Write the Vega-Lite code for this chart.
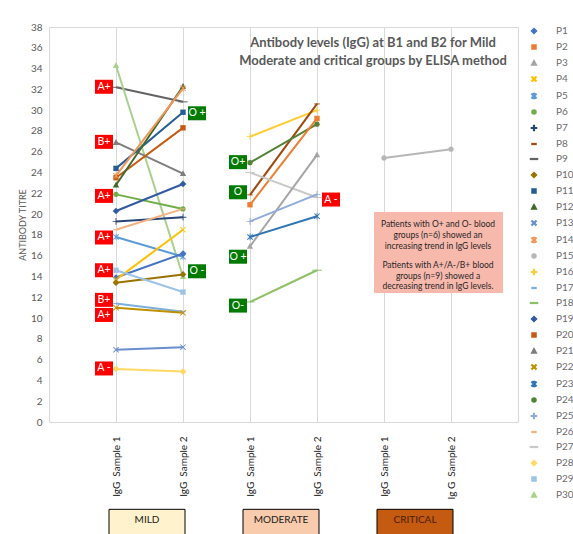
{
  "$schema": "https://vega.github.io/schema/vega-lite/v6.json",
  "width": 469,
  "height": 395,
  "autosize": {"type": "none"},
  "padding": {"left": 49, "top": 27, "right": 55, "bottom": 112},
  "background": "white",
  "config": {"font": "Lato", "view": {"stroke": "#d9d9d9"}},
  "datasets": {
    "titres": [
      {"patient": "P9", "sample": "Mild|IgG\u00a0 Sample 1", "titre": 32.2},
      {"patient": "P9", "sample": "Mild|IgG\u00a0 Sample 2", "titre": 30.8},
      {"patient": "P30", "sample": "Mild|IgG\u00a0 Sample 1", "titre": 34.3},
      {"patient": "P30", "sample": "Mild|IgG\u00a0 Sample 2", "titre": 14.0},
      {"patient": "P21", "sample": "Mild|IgG\u00a0 Sample 1", "titre": 26.9},
      {"patient": "P21", "sample": "Mild|IgG\u00a0 Sample 2", "titre": 23.9},
      {"patient": "P11", "sample": "Mild|IgG\u00a0 Sample 1", "titre": 24.4},
      {"patient": "P11", "sample": "Mild|IgG\u00a0 Sample 2", "titre": 29.8},
      {"patient": "P20", "sample": "Mild|IgG\u00a0 Sample 1", "titre": 23.5},
      {"patient": "P20", "sample": "Mild|IgG\u00a0 Sample 2", "titre": 28.3},
      {"patient": "P12", "sample": "Mild|IgG\u00a0 Sample 1", "titre": 22.8},
      {"patient": "P12", "sample": "Mild|IgG\u00a0 Sample 2", "titre": 32.3},
      {"patient": "P14", "sample": "Mild|IgG\u00a0 Sample 1", "titre": 23.7},
      {"patient": "P14", "sample": "Mild|IgG\u00a0 Sample 2", "titre": 32.1},
      {"patient": "P6", "sample": "Mild|IgG\u00a0 Sample 1", "titre": 21.9},
      {"patient": "P6", "sample": "Mild|IgG\u00a0 Sample 2", "titre": 20.5},
      {"patient": "P19", "sample": "Mild|IgG\u00a0 Sample 1", "titre": 20.3},
      {"patient": "P19", "sample": "Mild|IgG\u00a0 Sample 2", "titre": 22.9},
      {"patient": "P7", "sample": "Mild|IgG\u00a0 Sample 1", "titre": 19.3},
      {"patient": "P7", "sample": "Mild|IgG\u00a0 Sample 2", "titre": 19.7},
      {"patient": "P26", "sample": "Mild|IgG\u00a0 Sample 1", "titre": 18.5},
      {"patient": "P26", "sample": "Mild|IgG\u00a0 Sample 2", "titre": 20.5},
      {"patient": "P5", "sample": "Mild|IgG\u00a0 Sample 1", "titre": 17.8},
      {"patient": "P5", "sample": "Mild|IgG\u00a0 Sample 2", "titre": 15.9},
      {"patient": "P1", "sample": "Mild|IgG\u00a0 Sample 1", "titre": 13.9},
      {"patient": "P1", "sample": "Mild|IgG\u00a0 Sample 2", "titre": 16.2},
      {"patient": "P4", "sample": "Mild|IgG\u00a0 Sample 1", "titre": 13.7},
      {"patient": "P4", "sample": "Mild|IgG\u00a0 Sample 2", "titre": 18.5},
      {"patient": "P10", "sample": "Mild|IgG\u00a0 Sample 1", "titre": 13.4},
      {"patient": "P10", "sample": "Mild|IgG\u00a0 Sample 2", "titre": 14.2},
      {"patient": "P29", "sample": "Mild|IgG\u00a0 Sample 1", "titre": 14.6},
      {"patient": "P29", "sample": "Mild|IgG\u00a0 Sample 2", "titre": 12.5},
      {"patient": "P17", "sample": "Mild|IgG\u00a0 Sample 1", "titre": 11.4},
      {"patient": "P17", "sample": "Mild|IgG\u00a0 Sample 2", "titre": 10.6},
      {"patient": "P22", "sample": "Mild|IgG\u00a0 Sample 1", "titre": 11.0},
      {"patient": "P22", "sample": "Mild|IgG\u00a0 Sample 2", "titre": 10.5},
      {"patient": "P13", "sample": "Mild|IgG\u00a0 Sample 1", "titre": 6.95},
      {"patient": "P13", "sample": "Mild|IgG\u00a0 Sample 2", "titre": 7.2},
      {"patient": "P28", "sample": "Mild|IgG\u00a0 Sample 1", "titre": 5.1},
      {"patient": "P28", "sample": "Mild|IgG\u00a0 Sample 2", "titre": 4.85},
      {"patient": "P16", "sample": "Moderate|IgG\u00a0 Sample 1", "titre": 27.45},
      {"patient": "P16", "sample": "Moderate|IgG\u00a0 Sample 2", "titre": 30.0},
      {"patient": "P8", "sample": "Moderate|IgG\u00a0 Sample 1", "titre": 21.85},
      {"patient": "P8", "sample": "Moderate|IgG\u00a0 Sample 2", "titre": 30.6},
      {"patient": "P24", "sample": "Moderate|IgG\u00a0 Sample 1", "titre": 24.95},
      {"patient": "P24", "sample": "Moderate|IgG\u00a0 Sample 2", "titre": 28.65},
      {"patient": "P2", "sample": "Moderate|IgG\u00a0 Sample 1", "titre": 20.9},
      {"patient": "P2", "sample": "Moderate|IgG\u00a0 Sample 2", "titre": 29.2},
      {"patient": "P27", "sample": "Moderate|IgG\u00a0 Sample 1", "titre": 24.0},
      {"patient": "P27", "sample": "Moderate|IgG\u00a0 Sample 2", "titre": 21.6},
      {"patient": "P3", "sample": "Moderate|IgG\u00a0 Sample 1", "titre": 16.9},
      {"patient": "P3", "sample": "Moderate|IgG\u00a0 Sample 2", "titre": 25.7},
      {"patient": "P25", "sample": "Moderate|IgG\u00a0 Sample 1", "titre": 19.3},
      {"patient": "P25", "sample": "Moderate|IgG\u00a0 Sample 2", "titre": 21.9},
      {"patient": "P23", "sample": "Moderate|IgG\u00a0 Sample 1", "titre": 17.8},
      {"patient": "P23", "sample": "Moderate|IgG\u00a0 Sample 2", "titre": 19.8},
      {"patient": "P18", "sample": "Moderate|IgG\u00a0 Sample 1", "titre": 11.55},
      {"patient": "P18", "sample": "Moderate|IgG\u00a0 Sample 2", "titre": 14.6},
      {"patient": "P15", "sample": "Critical|IgG\u00a0 Sample 1", "titre": 25.4},
      {"patient": "P15", "sample": "Critical|Ig G\u00a0 Sample 2", "titre": 26.25}
    ],
    "bloodgroups": [
      {"sample": "Mild|IgG\u00a0 Sample 1", "pos": 32.25, "label": "A+"},
      {"sample": "Mild|IgG\u00a0 Sample 1", "pos": 26.95, "label": "B+"},
      {"sample": "Mild|IgG\u00a0 Sample 1", "pos": 21.75, "label": "A+"},
      {"sample": "Mild|IgG\u00a0 Sample 1", "pos": 17.75, "label": "A+"},
      {"sample": "Mild|IgG\u00a0 Sample 1", "pos": 14.6, "label": "A+"},
      {"sample": "Mild|IgG\u00a0 Sample 1", "pos": 11.75, "label": "B+"},
      {"sample": "Mild|IgG\u00a0 Sample 1", "pos": 10.3, "label": "A+"},
      {"sample": "Mild|IgG\u00a0 Sample 1", "pos": 5.15, "label": "A -"},
      {"sample": "Mild|IgG\u00a0 Sample 2", "pos": 29.7, "label": "O +"},
      {"sample": "Mild|IgG\u00a0 Sample 2", "pos": 14.5, "label": "O -"},
      {"sample": "Moderate|IgG\u00a0 Sample 1", "pos": 25.0, "label": "O+"},
      {"sample": "Moderate|IgG\u00a0 Sample 1", "pos": 22.1, "label": "O"},
      {"sample": "Moderate|IgG\u00a0 Sample 1", "pos": 15.9, "label": "O +"},
      {"sample": "Moderate|IgG\u00a0 Sample 1", "pos": 11.2, "label": "O-"},
      {"sample": "Moderate|IgG\u00a0 Sample 2", "pos": 21.4, "label": "A -"}
    ],
    "groups": [
      {"group": "MILD", "start": "Mild|IgG\u00a0 Sample 1"},
      {"group": "MODERATE", "start": "Moderate|IgG\u00a0 Sample 1"},
      {"group": "CRITICAL", "start": "Critical|IgG\u00a0 Sample 1"}
    ],
    "note": [
      {"para": 1, "text": ["Patients with O+ and O- blood", "groups (n=6) showed an", "increasing trend in IgG levels"]},
      {"para": 2, "text": ["Patients with A+/A-/B+ blood", "groups (n=9) showed a", "decreasing trend in IgG levels."]}
    ],
    "heading": [
      {"text": ["Antibody levels (IgG) at B1 and B2 for Mild", "Moderate and critical groups by ELISA method"]}
    ]
  },
  "layer": [
    {
      "data": {"name": "note"},
      "transform": [{"filter": "datum.para === 1"}],
      "mark": {"type": "point", "filled": true, "size": 4, "opacity": 1, "fill": "#F8B9AD", "strokeWidth": 0, "shape": "M-10,0H119V81H-10Z"},
      "encoding": {
        "x": {"datum": "Critical|IgG\u00a0 Sample 1", "type": "nominal", "scale": {"type": "point", "domain": ["Mild|IgG\u00a0 Sample 1", "Mild|IgG\u00a0 Sample 2", "Moderate|IgG\u00a0 Sample 1", "Moderate|IgG\u00a0 Sample 2", "Critical|IgG\u00a0 Sample 1", "Critical|Ig G\u00a0 Sample 2"], "padding": 1},
          "axis": {"title": null, "labelAngle": 270, "labelAlign": "right", "labelBaseline": "middle", "labelPadding": 14, "ticks": false, "domainColor": "#d9d9d9", "grid": true, "gridColor": "#d9d9d9", "labelExpr": "split(datum.label, '|')[1]", "labelFontSize": 10, "labelColor": "#1a1a1a", "labelFont": "Lato"}},
        "y": {"datum": 20.2, "type": "quantitative", "scale": {"domain": [0, 38], "nice": false},
          "axis": {"title": "ANTIBODY TITRE", "titleFontSize": 9, "titleColor": "#595959", "titleFontWeight": "normal", "titleFont": "Lato", "titlePadding": 3, "labelFontSize": 10, "labelColor": "#595959", "labelFont": "Lato", "ticks": false, "domain": false, "tickCount": 76, "format": "d", "labelOverlap": false, "labelPadding": 7, "labelExpr": "datum.value % 2 === 0 ? datum.label : ''", "gridColor": {"condition": {"test": "datum.value % 2 === 0", "value": "#d9d9d9"}, "value": "#f0f0f0"}}}
      }
    },
    {
      "data": {"name": "groups"},
      "mark": {"type": "point", "filled": true, "size": 4, "opacity": 1, "stroke": "#000000", "strokeWidth": 1, "shape": "M-7,0H69V30H-7Z"},
      "encoding": {
        "x": {"field": "start", "type": "nominal", "scale": {"type": "point", "domain": ["Mild|IgG\u00a0 Sample 1", "Mild|IgG\u00a0 Sample 2", "Moderate|IgG\u00a0 Sample 1", "Moderate|IgG\u00a0 Sample 2", "Critical|IgG\u00a0 Sample 1", "Critical|Ig G\u00a0 Sample 2"], "padding": 1}},
        "y": {"datum": -8.4, "type": "quantitative", "scale": {"domain": [0, 38], "nice": false}},
        "fill": {"field": "group", "type": "nominal", "scale": {"domain": ["MILD", "MODERATE", "CRITICAL"], "range": ["#FFF2CC", "#F8CBAD", "#C55A11"]}, "legend": null}
      }
    },
    {
      "data": {"name": "titres"},
      "mark": {"type": "line", "strokeWidth": 2},
      "encoding": {
        "x": {"field": "sample", "type": "nominal", "scale": {"type": "point", "domain": ["Mild|IgG\u00a0 Sample 1", "Mild|IgG\u00a0 Sample 2", "Moderate|IgG\u00a0 Sample 1", "Moderate|IgG\u00a0 Sample 2", "Critical|IgG\u00a0 Sample 1", "Critical|Ig G\u00a0 Sample 2"], "padding": 1}},
        "y": {"field": "titre", "type": "quantitative", "scale": {"domain": [0, 38], "nice": false}},
        "color": {"field": "patient", "type": "nominal",
          "scale": {"domain": ["P1","P2","P3","P4","P5","P6","P7","P8","P9","P10","P11","P12","P13","P14","P15","P16","P17","P18","P19","P20","P21","P22","P23","P24","P25","P26","P27","P28","P29","P30"],
            "range": ["#4472C4","#ED7D31","#A5A5A5","#FFC000","#5B9BD5","#70AD47","#264478","#9E480E","#636363","#997300","#255E91","#43682B","#698ED0","#F1975A","#B7B7B7","#FFCD33","#7CAFDD","#8CC168","#335AA1","#C55A11","#7E7E7E","#BF9000","#2E75B6","#548235","#8FAADC","#F4B183","#C9C9C9","#FFD966","#9DC3E6","#A9D18E"]},
          "legend": {"title": null, "orient": "none", "legendX": 480, "legendY": -1, "padding": 0, "labelFont": "Lato", "labelFontSize": 10, "labelColor": "#6b6b6b", "symbolSize": 25, "labelOffset": 17, "rowPadding": 5, "symbolLimit": 40}
        },
        "detail": {"field": "patient"}
      }
    },
    {
      "data": {"name": "titres"},
      "mark": {"type": "point", "filled": true, "size": 45, "opacity": 1, "strokeWidth": 0},
      "encoding": {
        "x": {"field": "sample", "type": "nominal", "scale": {"type": "point", "domain": ["Mild|IgG\u00a0 Sample 1", "Mild|IgG\u00a0 Sample 2", "Moderate|IgG\u00a0 Sample 1", "Moderate|IgG\u00a0 Sample 2", "Critical|IgG\u00a0 Sample 1", "Critical|Ig G\u00a0 Sample 2"], "padding": 1}},
        "y": {"field": "titre", "type": "quantitative", "scale": {"domain": [0, 38], "nice": false}},
        "color": {"field": "patient", "type": "nominal",
          "legend": {"title": null, "orient": "none", "legendX": 480, "legendY": -1, "padding": 0, "labelFont": "Lato", "labelFontSize": 10, "labelColor": "#6b6b6b", "symbolSize": 25, "labelOffset": 17, "rowPadding": 5, "symbolLimit": 40}},
        "shape": {"field": "patient", "type": "nominal", "legend": null,
          "scale": {"domain": ["P1","P2","P3","P4","P5","P6","P7","P8","P9","P10","P11","P12","P13","P14","P15","P16","P17","P18","P19","P20","P21","P22","P23","P24","P25","P26","P27","P28","P29","P30"],
            "range": [
              "M0,-1L1,0L0,1L-1,0Z", "M-0.8,-0.8H0.8V0.8H-0.8Z", "M0,-1L0.95,0.75H-0.95Z",
              "M-0.9,-0.7L-0.7,-0.9L0,-0.2L0.7,-0.9L0.9,-0.7L0.2,0L0.9,0.7L0.7,0.9L0,0.2L-0.7,0.9L-0.9,0.7L-0.2,0Z",
              "M-0.9,-0.7L-0.7,-0.9L0,-0.2L0.7,-0.9L0.9,-0.7L0.2,0L0.9,0.7L0.7,0.9L0,0.2L-0.7,0.9L-0.9,0.7L-0.2,0ZM-0.12,-1H0.12V1H-0.12Z",
              "M-0.8,0A0.8,0.8,0,1,1,0.8,0A0.8,0.8,0,1,1,-0.8,0Z",
              "M-0.13,-1H0.13V-0.13H1V0.13H0.13V1H-0.13V0.13H-1V-0.13H-0.13Z",
              "M-0.8,-0.15H0.8V0.15H-0.8Z", "M-1.4,-0.15H1.4V0.15H-1.4Z",
              "M0,-1L1,0L0,1L-1,0Z", "M-0.8,-0.8H0.8V0.8H-0.8Z", "M0,-1L0.95,0.75H-0.95Z",
              "M-0.9,-0.7L-0.7,-0.9L0,-0.2L0.7,-0.9L0.9,-0.7L0.2,0L0.9,0.7L0.7,0.9L0,0.2L-0.7,0.9L-0.9,0.7L-0.2,0Z",
              "M-0.9,-0.7L-0.7,-0.9L0,-0.2L0.7,-0.9L0.9,-0.7L0.2,0L0.9,0.7L0.7,0.9L0,0.2L-0.7,0.9L-0.9,0.7L-0.2,0ZM-0.12,-1H0.12V1H-0.12Z",
              "M-0.8,0A0.8,0.8,0,1,1,0.8,0A0.8,0.8,0,1,1,-0.8,0Z",
              "M-0.13,-1H0.13V-0.13H1V0.13H0.13V1H-0.13V0.13H-1V-0.13H-0.13Z",
              "M-0.8,-0.15H0.8V0.15H-0.8Z", "M-1.4,-0.15H1.4V0.15H-1.4Z",
              "M0,-1L1,0L0,1L-1,0Z", "M-0.8,-0.8H0.8V0.8H-0.8Z", "M0,-1L0.95,0.75H-0.95Z",
              "M-0.9,-0.7L-0.7,-0.9L0,-0.2L0.7,-0.9L0.9,-0.7L0.2,0L0.9,0.7L0.7,0.9L0,0.2L-0.7,0.9L-0.9,0.7L-0.2,0Z",
              "M-0.9,-0.7L-0.7,-0.9L0,-0.2L0.7,-0.9L0.9,-0.7L0.2,0L0.9,0.7L0.7,0.9L0,0.2L-0.7,0.9L-0.9,0.7L-0.2,0ZM-0.12,-1H0.12V1H-0.12Z",
              "M-0.8,0A0.8,0.8,0,1,1,0.8,0A0.8,0.8,0,1,1,-0.8,0Z",
              "M-0.13,-1H0.13V-0.13H1V0.13H0.13V1H-0.13V0.13H-1V-0.13H-0.13Z",
              "M-0.8,-0.15H0.8V0.15H-0.8Z", "M-1.4,-0.15H1.4V0.15H-1.4Z",
              "M0,-1L1,0L0,1L-1,0Z", "M-0.8,-0.8H0.8V0.8H-0.8Z", "M0,-1L0.95,0.75H-0.95Z"
            ]}}
      }
    },
    {
      "data": {"name": "bloodgroups"},
      "transform": [{"filter": "indexof(datum.sample, 'Sample 1') > 0"}],
      "layer": [
        {
          "mark": {"type": "point", "filled": true, "size": 4, "opacity": 1, "strokeWidth": 0, "shape": "M-21,-7H-3V7H-21Z"},
          "encoding": {
            "fill": {"condition": {"test": "indexof(datum.label, 'O') === 0", "value": "#007A00"}, "value": "#FF0000"}
          }
        },
        {
          "mark": {"type": "text", "dx": -12, "align": "center", "baseline": "middle", "fontSize": 10.5, "fill": "#ffffff", "font": "Lato"},
          "encoding": {"text": {"field": "label"}}
        }
      ],
      "encoding": {
        "x": {"field": "sample", "type": "nominal", "scale": {"type": "point", "domain": ["Mild|IgG\u00a0 Sample 1", "Mild|IgG\u00a0 Sample 2", "Moderate|IgG\u00a0 Sample 1", "Moderate|IgG\u00a0 Sample 2", "Critical|IgG\u00a0 Sample 1", "Critical|Ig G\u00a0 Sample 2"], "padding": 1}},
        "y": {"field": "pos", "type": "quantitative", "scale": {"domain": [0, 38], "nice": false}}
      }
    },
    {
      "data": {"name": "bloodgroups"},
      "transform": [{"filter": "indexof(datum.sample, 'Sample 2') > 0"}],
      "layer": [
        {
          "mark": {"type": "point", "filled": true, "size": 4, "opacity": 1, "strokeWidth": 0, "shape": "M5,-7H23V7H5Z"},
          "encoding": {
            "fill": {"condition": {"test": "indexof(datum.label, 'O') === 0", "value": "#007A00"}, "value": "#FF0000"}
          }
        },
        {
          "mark": {"type": "text", "dx": 14, "align": "center", "baseline": "middle", "fontSize": 10.5, "fill": "#ffffff", "font": "Lato"},
          "encoding": {"text": {"field": "label"}}
        }
      ],
      "encoding": {
        "x": {"field": "sample", "type": "nominal", "scale": {"type": "point", "domain": ["Mild|IgG\u00a0 Sample 1", "Mild|IgG\u00a0 Sample 2", "Moderate|IgG\u00a0 Sample 1", "Moderate|IgG\u00a0 Sample 2", "Critical|IgG\u00a0 Sample 1", "Critical|Ig G\u00a0 Sample 2"], "padding": 1}},
        "y": {"field": "pos", "type": "quantitative", "scale": {"domain": [0, 38], "nice": false}}
      }
    },
    {
      "data": {"name": "note"},
      "transform": [{"filter": "datum.para === 1"}],
      "mark": {"type": "text", "dx": 54, "align": "center", "baseline": "middle", "fontSize": 8.5, "lineHeight": 11, "fill": "#262626", "font": "Lato"},
      "encoding": {
        "x": {"datum": "Critical|IgG\u00a0 Sample 1", "type": "nominal", "scale": {"type": "point", "domain": ["Mild|IgG\u00a0 Sample 1", "Mild|IgG\u00a0 Sample 2", "Moderate|IgG\u00a0 Sample 1", "Moderate|IgG\u00a0 Sample 2", "Critical|IgG\u00a0 Sample 1", "Critical|Ig G\u00a0 Sample 2"], "padding": 1}},
        "y": {"datum": 19.06, "type": "quantitative", "scale": {"domain": [0, 38], "nice": false}},
        "text": {"field": "text"}
      }
    },
    {
      "data": {"name": "note"},
      "transform": [{"filter": "datum.para === 2"}],
      "mark": {"type": "text", "dx": 54, "align": "center", "baseline": "middle", "fontSize": 8.5, "lineHeight": 10.3, "fill": "#262626", "font": "Lato"},
      "encoding": {
        "x": {"datum": "Critical|IgG\u00a0 Sample 1", "type": "nominal", "scale": {"type": "point", "domain": ["Mild|IgG\u00a0 Sample 1", "Mild|IgG\u00a0 Sample 2", "Moderate|IgG\u00a0 Sample 1", "Moderate|IgG\u00a0 Sample 2", "Critical|IgG\u00a0 Sample 1", "Critical|Ig G\u00a0 Sample 2"], "padding": 1}},
        "y": {"datum": 15.08, "type": "quantitative", "scale": {"domain": [0, 38], "nice": false}},
        "text": {"field": "text"}
      }
    },
    {
      "data": {"name": "heading"},
      "mark": {"type": "text", "dx": 56, "align": "center", "baseline": "top", "fontSize": 13, "fontWeight": "bold", "lineHeight": 18, "fill": "#595959", "font": "Lato"},
      "encoding": {
        "x": {"datum": "Moderate|IgG\u00a0 Sample 2", "type": "nominal", "scale": {"type": "point", "domain": ["Mild|IgG\u00a0 Sample 1", "Mild|IgG\u00a0 Sample 2", "Moderate|IgG\u00a0 Sample 1", "Moderate|IgG\u00a0 Sample 2", "Critical|IgG\u00a0 Sample 1", "Critical|Ig G\u00a0 Sample 2"], "padding": 1}},
        "y": {"datum": 37.05, "type": "quantitative", "scale": {"domain": [0, 38], "nice": false}},
        "text": {"field": "text"}
      }
    },
    {
      "data": {"name": "groups"},
      "mark": {"type": "text", "dx": 31, "align": "center", "baseline": "middle", "fontSize": 10, "font": "Lato"},
      "encoding": {
        "x": {"field": "start", "type": "nominal", "scale": {"type": "point", "domain": ["Mild|IgG\u00a0 Sample 1", "Mild|IgG\u00a0 Sample 2", "Moderate|IgG\u00a0 Sample 1", "Moderate|IgG\u00a0 Sample 2", "Critical|IgG\u00a0 Sample 1", "Critical|Ig G\u00a0 Sample 2"], "padding": 1}},
        "y": {"datum": -9.45, "type": "quantitative", "scale": {"domain": [0, 38], "nice": false}},
        "text": {"field": "group"},
        "fill": {"condition": {"test": "datum.group === 'CRITICAL'", "value": "#4a1e04"}, "value": "#1a1a1a"}
      }
    }
  ]
}
